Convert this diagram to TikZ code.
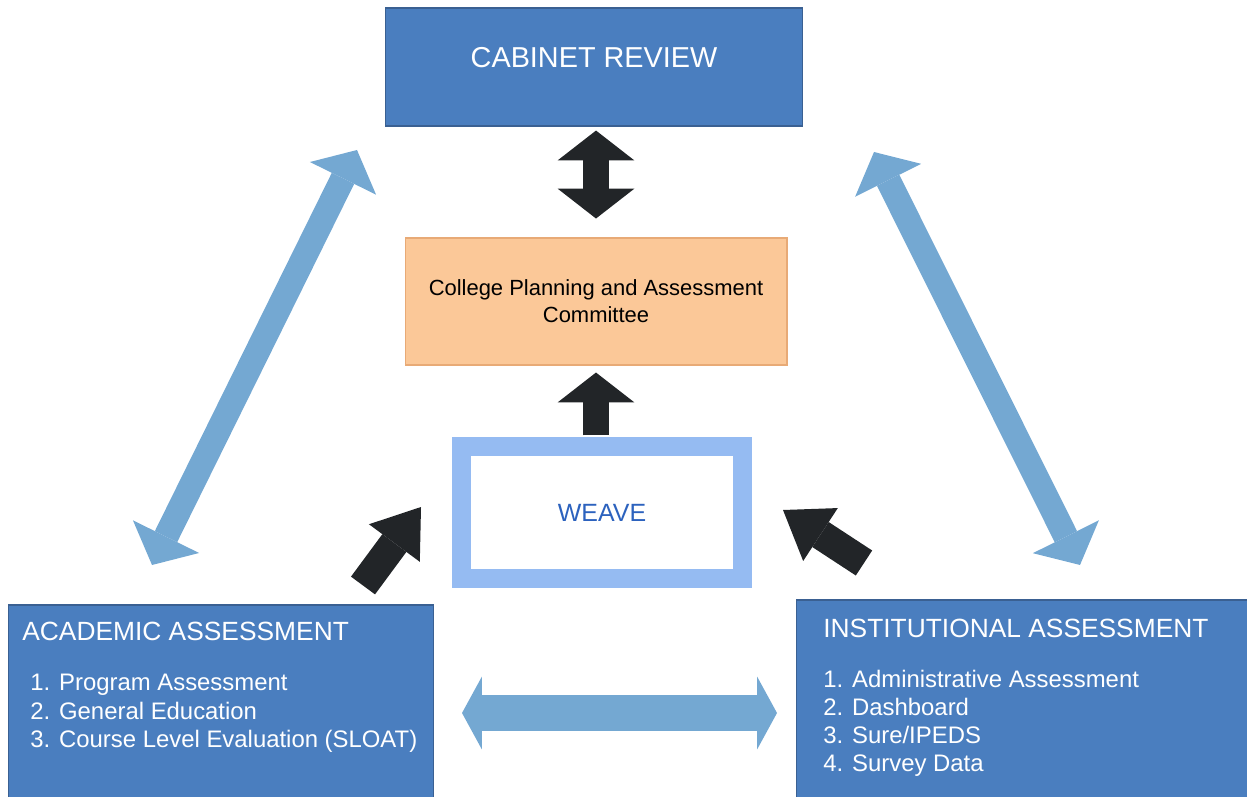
\documentclass[tikz,border=0pt]{standalone}
\usepackage{fontspec}
\setmainfont{Liberation Sans}
\usetikzlibrary{arrows.meta}

\definecolor{boxblue}{RGB}{74,126,191}
\definecolor{boxedge}{RGB}{58,96,146}
\definecolor{cpacfill}{RGB}{251,200,152}
\definecolor{cpacedge}{RGB}{232,170,118}
\definecolor{weaveframe}{RGB}{149,187,242}
\definecolor{weavetext}{RGB}{44,98,190}
\definecolor{flowblue}{RGB}{116,168,210}
\definecolor{arrowblack}{RGB}{34,37,40}

\tikzset{
  blkhead/.tip={Triangle[width=43.7pt,length=17pt,line width=0pt]},
  slanthead/.tip={Triangle[width=36pt,length=25.5pt,line width=0pt]},
  diaghead/.tip={Triangle[width=42pt,length=18pt,line width=0pt]},
  flathead/.tip={Triangle[width=41.4pt,length=11.3pt,line width=0pt]},
  bluebox/.style={draw=boxedge, fill=boxblue, line width=0.6pt, inner sep=0},
  boxhead/.style={text=white, font=\fontsize{15}{18}\selectfont, anchor=base west, inner sep=0},
  boxitem/.style={text=white, font=\fontsize{13.6}{16}\selectfont, anchor=base west, inner sep=0},
  blkarrow/.style={draw=arrowblack, line width=15.3pt},
  flowarrow/.style={draw=flowblue, line width=14.2pt, diaghead-diaghead}
}

\begin{document}
\begin{tikzpicture}[x=0.02cm,y=-0.02cm]

\useasboundingbox (0,0) rectangle (1247,797);
\clip (0,0) rectangle (1247,797);

% cabinet
\node[bluebox, minimum width=8.36cm, minimum height=2.36cm] (cab) at (594,67) {};
\node[text=white, font=\fontsize{16.4}{19}\selectfont, inner sep=0] (cabtxt) at (594,57.5) {CABINET REVIEW};

% committee
\node[draw=cpacedge, fill=cpacfill, line width=0.6pt, minimum width=7.64cm, minimum height=2.54cm,
      align=center, font=\fontsize{12.5}{15.3}\selectfont] (cpac) at (596,301.5)
      {College Planning and Assessment\\Committee};

% weave
\node[draw=weaveframe, fill=white, line width=10.8pt, minimum width=5.62cm, minimum height=2.64cm,
      text=weavetext, font=\fontsize{14.2}{17}\selectfont] (weave) at (602,512.5) {WEAVE};

% academic assessment
\node[bluebox, minimum width=8.52cm, minimum height=4.1cm] (acad) at (221,707.5) {};
\node[boxhead] (acadhead) at (22,640) {ACADEMIC ASSESSMENT};
\foreach \t [count=\i] in {Program Assessment, General Education, Course Level Evaluation (SLOAT)}
  \node[boxitem] (acad\i) at (30,662+28.5*\i) {\i. \t};

% institutional assessment
\node[bluebox, minimum width=9.18cm, minimum height=4.2cm] (inst) at (1025.5,705) {};
\node[boxhead] (insthead) at (823,637) {INSTITUTIONAL ASSESSMENT};
\foreach \t [count=\i] in {Administrative Assessment, Dashboard, Sure/IPEDS, Survey Data}
  \node[boxitem] (inst\i) at (823,659+28*\i) {\i. \t};

% arrow ends
\coordinate (acadtail) at (363,585.5);
\coordinate (acadtip) at (421,507);
\coordinate (insttail) at (864,563);
\coordinate (insttip) at (783,510);
\coordinate (leftlow) at (152,565);
\coordinate (lefthigh) at (357,150);
\coordinate (rightlow) at (1080,565);
\coordinate (righthigh) at (874,152);
\coordinate (midleft) at (462,713);
\coordinate (midright) at (777,713);

% black arrows
\draw[blkarrow, blkhead-blkhead, shorten <=2.3pt, shorten >=10.8pt] (cpac.north |- cab.south) -- (cpac.north);
\draw[blkarrow, -blkhead, shorten <=1pt, shorten >=4pt] (cpac.south |- weave.north) -- (cpac.south);
\draw[blkarrow, line width=17pt, -slanthead] (acadtail) -- (acadtip);
\draw[blkarrow, line width=17pt, -slanthead] (insttail) -- (insttip);

% blue arrows
\draw[flowarrow] (leftlow) -- (lefthigh);
\draw[flowarrow] (rightlow) -- (righthigh);
\draw[draw=flowblue, line width=21pt, flathead-flathead] (midleft) -- (midright);

\end{tikzpicture}
\end{document}
